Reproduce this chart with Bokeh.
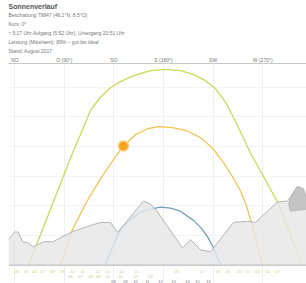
from bokeh.plotting import figure
from bokeh.models import FixedTicker, Title, Span
from bokeh.core.properties import value
from bokeh.embed import file_html
from bokeh.resources import INLINE

# ---- data (azimuth in degrees, elevation in degrees) ----
summer_az = [57.6, 64.8, 70.3, 79.3, 88.4, 97.5, 107.4, 113.8, 122.9, 131.9, 141.0, 152.8, 168.2,
             181.8, 195.4, 207.2, 218.1, 227.2, 236.2, 245.3, 258.9, 270.7, 283.4, 295.2, 304.3]
summer_el = [0.0, 6.9, 12.0, 20.6, 29.2, 37.8, 46.4, 52.2, 56.7, 59.8, 61.9, 63.9, 65.6,
             66.0, 65.6, 64.3, 62.2, 59.5, 55.0, 48.5, 37.8, 29.9, 21.3, 10.3, 1.0]

today_az = [86.6, 97.5, 110.2, 122.9, 133.7, 143.7, 154.6, 165.5, 175.5, 188.2, 200.9, 213.6,
            224.4, 233.5, 242.6, 249.8, 255.3, 259.8, 264.4, 269.8]
today_el = [0.0, 12.0, 21.3, 29.2, 35.1, 40.2, 44.0, 46.0, 46.7, 46.4, 45.4, 43.0,
            39.5, 35.1, 29.9, 25.1, 19.9, 14.4, 7.6, 0.0]

winter_az = [127.4, 133.7, 141.0, 150.1, 159.1, 168.2, 177.3, 186.3, 195.4, 207.2, 214.5, 219.9, 225.4, 231.7]
winter_el = [0.0, 6.2, 12.0, 15.5, 17.9, 18.9, 19.6, 19.2, 18.2, 15.1, 12.4, 9.6, 5.8, 0.0]

sun_az = [143.7]
sun_el = [40.2]

horizon_az = [39.4, 41.2, 45.8, 48.5, 52.1, 56.6, 62.1, 71.2, 80.2, 86.6, 97.5, 111.1, 122.9, 131.9,
              138.3, 161.9, 168.2, 174.6, 183.6, 197.2, 204.5, 213.6, 222.6, 243.5, 256.2, 263.4,
              283.4, 292.5, 301.5, 304.3, 309.7]
horizon_el = [8.6, 9.6, 11.3, 11.0, 7.9, 7.6, 6.2, 7.9, 7.9, 9.3, 11.3, 13.1, 14.4, 14.4,
              11.0, 21.6, 20.6, 17.9, 13.1, 5.8, 8.6, 5.2, 4.5, 14.4, 14.8, 14.4,
              21.3, 21.6, 26.5, 25.8, 23.0]

obstacle_az = [293.4, 297.0, 301.5, 307.0, 309.7, 309.7, 295.2]
obstacle_el = [20.6, 24.1, 26.5, 25.8, 22.3, 18.9, 18.2]

dir_ticks = [45, 90, 135, 180, 225, 270]
dir_labels = ["NO", "O (90°)", "SO", "S (180°)", "SW", "W (270°)"]

hours1_az = [46.7, 55.7, 63.0, 70.3, 79.3, 88.4, 97.5, 106.5, 120.1, 129.2, 141.9, 155.5, 191.7,
             214.4, 228.9, 238.0, 248.9, 256.1, 265.2, 274.2, 283.3]
hours1_txt = ["04", "05", "06", "07", "08", "09", "10", "11", "12", "13", "14", "15", "16",
              "17", "18", "19", "20", "21", "05", "06", "07"]
hours2_az = [95.6, 104.7, 113.8, 121.0, 129.2, 141.0, 154.6, 168.2]
hours2_txt = ["06", "07", "08", "09", "10", "11", "12", "13"]
hours3_az = [134.7, 145.5, 154.6, 165.5, 177.3, 189.1, 201.8, 210.8, 220.8]
hours3_txt = ["08", "09", "10", "11", "12", "13", "14", "15", "16"]

title_lines = [
    "Sonnenverlauf",
    "Beschattung 79847 (46,1°N, 8,5°O)",
    "Kurs: 0°",
    "↑ 5:17 Uhr Aufgang (5:52 Uhr), Untergang 20:51 Uhr",
    "Leistung (Mittelwert): 89% – gut bis ideal",
    "Stand: August 2017",
]

# ---- figure ----
p = figure(width=306, height=283, x_range=(39.4, 309.7), y_range=(-6.19, 68.0),
           output_backend="svg", toolbar_location=None, x_axis_location="above",
           y_axis_location=None, min_border_left=8, min_border_right=0,
           min_border_bottom=0, min_border_top=0, outline_line_color=None)

p.title.text = title_lines[0]
p.title.text_font = "Liberation Sans"
p.title.text_font_size = "7px"
p.title.text_font_style = "bold"
p.title.text_color = "#555555"
p.title.standoff = 0
p.title.text_line_height = 0.9

for i, line in enumerate(reversed(title_lines[1:])):
    p.add_layout(Title(text=line, text_font="Liberation Sans", text_font_size="5px",
                       text_font_style="normal", text_color="#777777",
                       standoff=0 if i == 0 else 1, text_line_height=0.85), "above")

ax = p.xaxis[0]
ax.ticker = FixedTicker(ticks=dir_ticks)
ax.major_label_overrides = {t: l for t, l in zip(dir_ticks, dir_labels)}
ax.major_label_text_font = "Liberation Sans"
ax.major_label_text_font_size = "5px"
ax.major_label_text_color = "#777777"
ax.major_label_standoff = 1
ax.major_tick_out = 0
ax.major_tick_in = 0
ax.minor_tick_out = 0
ax.minor_tick_in = 0
ax.major_tick_line_color = None
ax.minor_tick_line_color = None
ax.axis_line_color = "#c8c8c8"

p.xgrid.ticker = FixedTicker(ticks=dir_ticks)
p.xgrid.grid_line_color = "#eeeeee"
p.ygrid.ticker = FixedTicker(ticks=[10, 20, 30, 40, 50, 60])
p.ygrid.grid_line_color = "#f4f4f4"

# sun paths
p.line(summer_az, summer_el, line_color="#cbdb55", line_width=1.3)
p.line(today_az, today_el, line_color="#f4c450", line_width=1.3)
p.line(winter_az, winter_el, line_color="#6f9fbb", line_width=1.3)

# horizon
hx = horizon_az + [horizon_az[-1], horizon_az[0]]
hy = horizon_el + [0, 0]
p.patch(hx, hy, fill_color="#e6e6e6", fill_alpha=0.82, line_color=None)
p.line(horizon_az, horizon_el, line_color="#b4b4b4", line_width=1)
p.patch(obstacle_az, obstacle_el, fill_color="#c4c4c4", line_color="#b8b8b8", line_width=1)

# current sun position
p.scatter(sun_az, sun_el, size=10, fill_color="#f5a11c", line_color="#fbcf80", line_width=1.5)

p.add_layout(Span(location=0, dimension="width", line_color="#b0b0b0", line_width=1))

p.text(hours1_az, [-2.0] * len(hours1_az), text=hours1_txt, text_font=value("Liberation Sans"),
       text_font_size="4px", text_color="#c9d27a", text_align="center", text_baseline="middle")
p.text(hours2_az, [-3.9] * len(hours2_az), text=hours2_txt, text_font=value("Liberation Sans"),
       text_font_size="4px", text_color="#c4c98a", text_align="center", text_baseline="middle")
p.text(hours3_az, [-5.4] * len(hours3_az), text=hours3_txt, text_font=value("Liberation Sans"),
       text_font_size="4px", text_color="#777777", text_align="center", text_baseline="middle")

open("out.html", "w").write(file_html(p, INLINE))
